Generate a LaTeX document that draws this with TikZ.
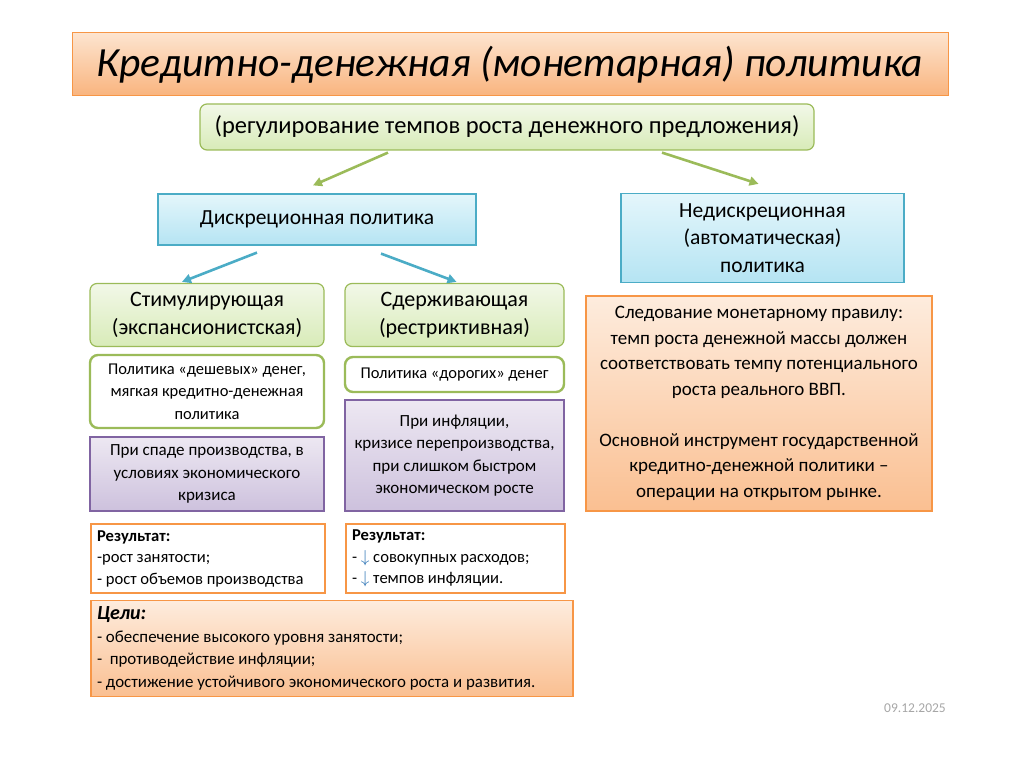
\documentclass[tikz,border=0pt]{standalone}
\usepackage{fontspec}
\setmainfont{Carlito}
\usepackage{xcolor}
\usetikzlibrary{positioning,arrows.meta,calc}
\definecolor{OrLine}{HTML}{F79646}
\definecolor{OrTop}{HTML}{FDE4CF}
\definecolor{OrBot}{HTML}{F9B47E}
\definecolor{GrLine}{HTML}{9BBB59}
\definecolor{GrTop}{HTML}{F2F8E8}
\definecolor{GrBot}{HTML}{D8EBB8}
\definecolor{BlLine}{HTML}{4BACC6}
\definecolor{BlTop}{HTML}{E4F6FB}
\definecolor{BlBot}{HTML}{B5E4F3}
\definecolor{PuLine}{HTML}{8064A2}
\definecolor{PuTop}{HTML}{EDE8F2}
\definecolor{PuBot}{HTML}{CDC1DD}
\definecolor{DownArr}{HTML}{2E75B6}

\begin{document}
\begin{tikzpicture}[x=1pt,y=-1pt,
  >={Triangle[length=9pt,width=9pt]},
  head/.style={draw=OrLine,line width=1pt,top color=OrTop,bottom color=OrBot,
               minimum width=876pt,minimum height=63pt,font=\fontsize{41.5}{44}\selectfont\itshape},
  grn/.style={draw=GrLine,line width=1.2pt,rounded corners=7pt,top color=GrTop,bottom color=GrBot,
              align=center,inner sep=2pt},
  wgrn/.style={draw=GrLine,line width=2.4pt,rounded corners=8pt,fill=white,align=center,inner sep=2pt,
               font=\fontsize{16.5}{22.5}\selectfont},
  blu/.style={draw=BlLine,line width=1.2pt,top color=BlTop,bottom color=BlBot,align=center,inner sep=2pt,
              font=\fontsize{21.5}{27.5}\selectfont},
  pur/.style={draw=PuLine,line width=1.2pt,top color=PuTop,bottom color=PuBot,align=center,inner sep=2pt,
              font=\fontsize{17}{22.5}\selectfont},
  res/.style={draw=OrLine,line width=2.4pt,fill=white,align=flush left,inner sep=6pt,
              font=\fontsize{16.6}{21.5}\selectfont},
  org/.style={draw=OrLine,line width=1.2pt,top color=OrTop!70!white,bottom color=OrBot!85!white,inner sep=2pt},
  garrow/.style={->,line width=2.6pt,GrLine},
  barrow/.style={->,line width=2.6pt,BlLine},
]
\useasboundingbox (0,0) rectangle (1024,767);

\node[head] (title) at (510,64.5) {Кредитно-денежная (монетарная) политика};
\node[grn,minimum width=614pt,minimum height=46pt,font=\fontsize{24.5}{28}\selectfont] (reg) at (507,127)
  {(регулирование темпов роста денежного предложения)};

\node[blu,minimum width=318pt,minimum height=51pt] (disc) at (317,219.5) {Дискреционная политика};
\node[blu,minimum width=283pt,minimum height=89pt] (auto) at (762.5,238)
  {Недискреционная\\(автоматическая)\\политика};

\node[grn,minimum width=234pt,minimum height=63pt,font=\fontsize{22}{28}\selectfont] (stim) at (207,315)
  {Стимулирующая\\(экспансионистская)};
\node[grn,minimum width=219pt,minimum height=63pt,font=\fontsize{22}{28}\selectfont] (restr) at (454.5,315)
  {Сдерживающая\\(рестриктивная)};

\node[wgrn,minimum width=234pt,minimum height=73pt] (cheap) at (207,391.5)
  {Политика «дешевых» денег,\\мягкая кредитно-денежная\\политика};
\node[wgrn,minimum width=219pt,minimum height=35pt] (dear) at (454.5,374.5) {Политика «дорогих» денег};

\node[pur,minimum width=234pt,minimum height=74pt] (slump) at (207,474)
  {При спаде производства, в\\условиях экономического\\кризиса};
\node[pur,minimum width=219pt,minimum height=111pt] (infl) at (454.5,455.5)
  {При инфляции,\\кризисе перепроизводства,\\при слишком быстром\\экономическом росте};

\node[org,minimum width=346pt,minimum height=215pt,align=center,font=\fontsize{19}{25.5}\selectfont] (rule) at (759,403.5)
  {Следование монетарному правилу:\\темп роста денежной массы должен\\соответствовать темпу потенциального\\роста реального ВВП.\\[25.5pt]
   Основной инструмент государственной\\кредитно-денежной политики –\\операции на открытом рынке.};

\node[res,minimum width=234pt,minimum height=69pt,text width=222pt] (res1) at (208,558.5)
  {\textbf{Результат:}\\-рост занятости;\\- рост объемов производства};
\node[res,minimum width=219pt,minimum height=69pt,text width=207pt] (res2) at (455.5,558.5)
  {\textbf{Результат:}\\- \textcolor{DownArr}{$\downarrow$} совокупных расходов;\\- \textcolor{DownArr}{$\downarrow$} темпов инфляции.};

\node[org,minimum width=482pt,minimum height=87pt,text width=470pt,inner sep=6pt,align=flush left,font=\fontsize{16.9}{22.5}\selectfont] (goals) at (332,648.5)
  {{\fontsize{20}{22.5}\selectfont\bfseries\itshape Цели:}\\- обеспечение высокого уровня занятости;\\-\ \ противодействие инфляции;\\- достижение устойчивого экономического роста и развития.};

\node[font=\fontsize{13.5}{15}\selectfont,text=black!35] (date) at (915,708) {09.12.2025};

\draw[garrow] ([xshift=-119pt,yshift=-2pt]reg.south) -- ([xshift=-4pt,yshift=8pt]disc.north);
\draw[garrow] ([xshift=155pt,yshift=-2pt]reg.south) -- ([xshift=-4pt,yshift=9pt]auto.north);
\draw[barrow] ([xshift=-60pt,yshift=-7pt]disc.south) -- ([xshift=-25pt,yshift=1pt]stim.north);
\draw[barrow] ([xshift=64pt,yshift=-8pt]disc.south) -- ([xshift=2pt,yshift=1pt]restr.north);
\end{tikzpicture}
\end{document}
